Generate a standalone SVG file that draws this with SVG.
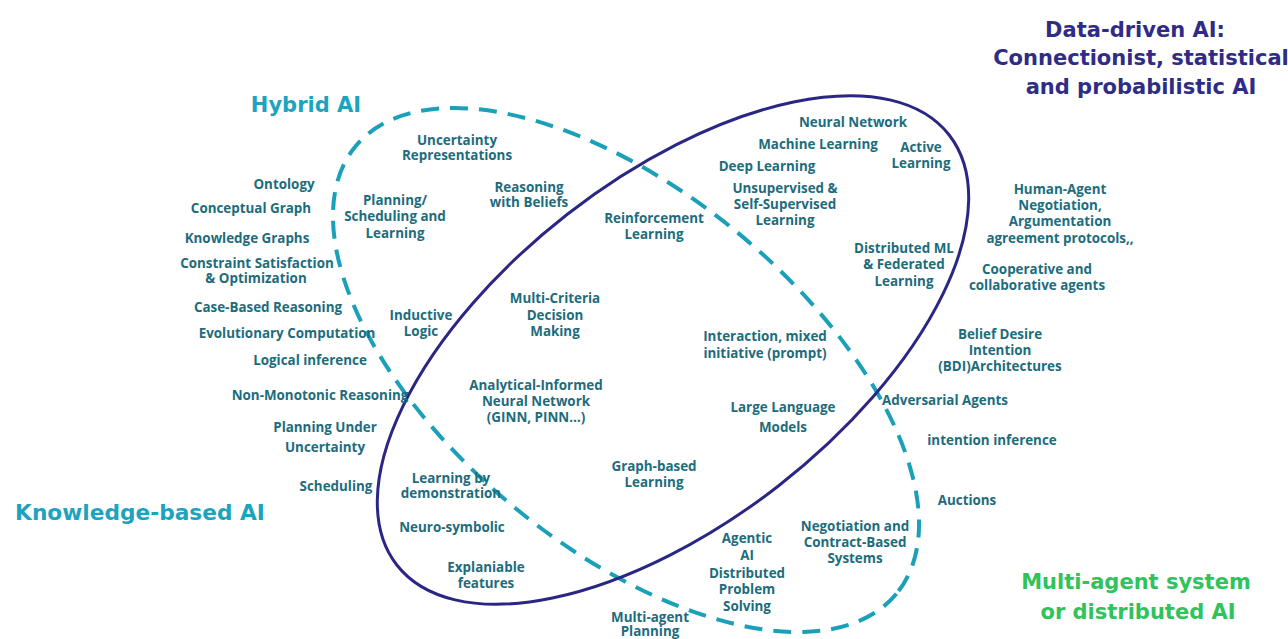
<svg xmlns="http://www.w3.org/2000/svg" width="1288" height="639" viewBox="0 0 1288 639">
  <style>
    .lbl { font-family: "Open Sans", "Liberation Sans", sans-serif; font-weight: 700; font-size: 13.4px; fill: #1d6c7c; text-anchor: middle; }
    .ttl { font-family: "DejaVu Sans", "Liberation Sans", sans-serif; font-weight: 700; font-size: 21px; text-anchor: middle; }
    .data { fill: #2e2c86; }
    .hyb { fill: #1ea3bf; }
    .mas { fill: #2fc35c; }
    .dash { fill: none; stroke: #1aa0b9; stroke-width: 4; stroke-dasharray: 18 11; }
    .solid { fill: none; stroke: #2a2784; stroke-width: 3; }
  </style>
  <rect width="1288" height="639" fill="#ffffff"/>

  <!-- region outlines -->
  <g id="regions">
    <ellipse id="hybrid-region" class="dash" cx="626" cy="370" rx="351" ry="177" transform="rotate(39.6 626 370)"/>
    <ellipse id="data-region" class="solid" cx="673" cy="350" rx="350" ry="172" transform="rotate(-37.9 673 350)"/>
  </g>
  <g id="connectors"/>

  <!-- region titles -->
  <g id="title-data" class="ttl data">
    <text x="1135" y="37">Data-driven AI:</text>
    <text x="1141" y="65">Connectionist, statistical</text>
    <text x="1141" y="94">and probabilistic AI</text>
  </g>
  <g id="title-hybrid" class="ttl hyb"><text x="306" y="112">Hybrid AI</text></g>
  <g id="title-knowledge" class="ttl hyb"><text x="140" y="520" font-size="21.7">Knowledge-based AI</text></g>
  <g id="title-mas" class="ttl mas">
    <text x="1136" y="589">Multi-agent system</text>
    <text x="1138" y="619">or distributed AI</text>
  </g>

  <!-- knowledge-based side -->
  <g id="n-ontology" class="lbl"><text x="284" y="189">Ontology</text></g>
  <g id="n-conceptual" class="lbl"><text x="251" y="213">Conceptual Graph</text></g>
  <g id="n-kg" class="lbl"><text x="247" y="243">Knowledge Graphs</text></g>
  <g id="n-csp" class="lbl"><text x="257" y="268">Constraint Satisfaction</text><text x="256" y="283">&amp; Optimization</text></g>
  <g id="n-cbr" class="lbl"><text x="268" y="312">Case-Based Reasoning</text></g>
  <g id="n-evo" class="lbl"><text x="287" y="338">Evolutionary Computation</text></g>
  <g id="n-logic" class="lbl"><text x="310" y="365">Logical inference</text></g>
  <g id="n-nonmono" class="lbl"><text x="320" y="400">Non-Monotonic Reasoning</text></g>
  <g id="n-puu" class="lbl"><text x="325" y="432">Planning Under</text><text x="325" y="452">Uncertainty</text></g>
  <g id="n-sched" class="lbl"><text x="336" y="491">Scheduling</text></g>

  <!-- hybrid region -->
  <g id="n-uncert" class="lbl"><text x="457" y="145">Uncertainty</text><text x="457" y="160">Representations</text></g>
  <g id="n-psl" class="lbl"><text x="395" y="205">Planning/</text><text x="395" y="221">Scheduling and</text><text x="395" y="238">Learning</text></g>
  <g id="n-beliefs" class="lbl"><text x="529" y="192">Reasoning</text><text x="529" y="207">with Beliefs</text></g>
  <g id="n-inductive" class="lbl"><text x="421" y="320">Inductive</text><text x="421" y="336">Logic</text></g>
  <g id="n-mcdm" class="lbl"><text x="555" y="303">Multi-Criteria</text><text x="555" y="320">Decision</text><text x="555" y="336">Making</text></g>
  <g id="n-ainn" class="lbl"><text x="536" y="390">Analytical-Informed</text><text x="536" y="406">Neural Network</text><text x="536" y="422">(GINN, PINN…)</text></g>
  <g id="n-lbd" class="lbl"><text x="451" y="483">Learning by</text><text x="451" y="498">demonstration</text></g>
  <g id="n-neurosym" class="lbl"><text x="452" y="532">Neuro-symbolic</text></g>
  <g id="n-xai" class="lbl"><text x="486" y="572">Explaniable</text><text x="486" y="588">features</text></g>
  <g id="n-graph" class="lbl"><text x="654" y="471">Graph-based</text><text x="654" y="487">Learning</text></g>
  <g id="n-map" class="lbl"><text x="650" y="622">Multi-agent</text><text x="650" y="636">Planning</text></g>
  <g id="n-agentic" class="lbl"><text x="747" y="543">Agentic</text><text x="747" y="560">AI</text><text x="747" y="578">Distributed</text><text x="747" y="594">Problem</text><text x="747" y="611">Solving</text></g>
  <g id="n-negotiation" class="lbl"><text x="855" y="531">Negotiation and</text><text x="855" y="547">Contract-Based</text><text x="855" y="563">Systems</text></g>
  <g id="n-rl" class="lbl"><text x="654" y="223">Reinforcement</text><text x="654" y="239">Learning</text></g>
  <g id="n-interaction" class="lbl"><text x="765" y="341">Interaction, mixed</text><text x="765" y="358">initiative (prompt)</text></g>
  <g id="n-llm" class="lbl"><text x="783" y="412">Large Language</text><text x="783" y="432">Models</text></g>

  <!-- data-driven region -->
  <g id="n-nn" class="lbl"><text x="853" y="127">Neural Network</text></g>
  <g id="n-ml" class="lbl"><text x="818" y="149">Machine Learning</text></g>
  <g id="n-dl" class="lbl"><text x="767" y="171">Deep Learning</text></g>
  <g id="n-active" class="lbl"><text x="921" y="152">Active</text><text x="921" y="168">Learning</text></g>
  <g id="n-unsup" class="lbl"><text x="785" y="193">Unsupervised &amp;</text><text x="785" y="209">Self-Supervised</text><text x="785" y="225">Learning</text></g>
  <g id="n-dml" class="lbl"><text x="904" y="253">Distributed ML</text><text x="904" y="269">&amp; Federated</text><text x="904" y="286">Learning</text></g>

  <!-- multi-agent side -->
  <g id="n-human" class="lbl"><text x="1060" y="194">Human-Agent</text><text x="1060" y="210">Negotiation,</text><text x="1060" y="226">Argumentation</text><text x="1060" y="243">agreement protocols,,</text></g>
  <g id="n-coop" class="lbl"><text x="1037" y="274">Cooperative and</text><text x="1037" y="290">collaborative agents</text></g>
  <g id="n-bdi" class="lbl"><text x="1000" y="339">Belief Desire</text><text x="1000" y="355">Intention</text><text x="1000" y="371">(BDI)Architectures</text></g>
  <g id="n-adv" class="lbl"><text x="945" y="405">Adversarial Agents</text></g>
  <g id="n-intent" class="lbl"><text x="992" y="445">intention inference</text></g>
  <g id="n-auctions" class="lbl"><text x="967" y="505">Auctions</text></g>
</svg>
